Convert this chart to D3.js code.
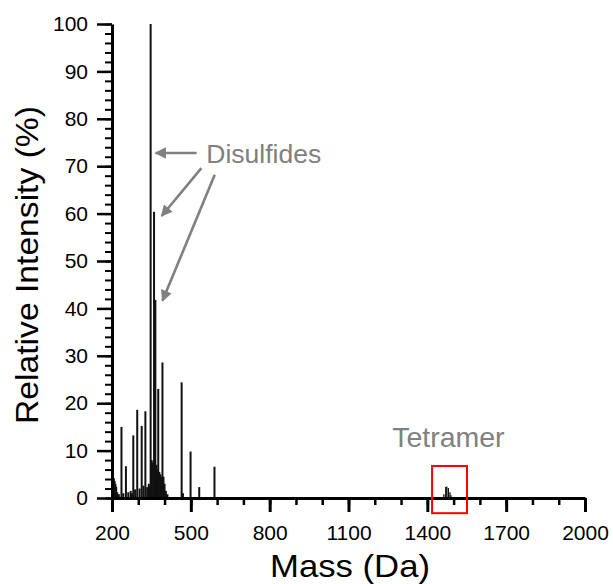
<!DOCTYPE html>
<html><head><meta charset="utf-8">
<script src="https://cdn.jsdelivr.net/npm/d3@7"></script>
<style>body{margin:0;background:#fff;} svg{display:block;}</style>
</head><body>
<svg id="chart" width="613" height="584"></svg>
<script>
// Spectrum sticks (mass in Da, relative intensity in %)
const masses = [201, 204, 207, 210, 213, 216, 220, 226, 236, 243, 253, 262, 271, 276, 281, 288, 296, 305, 313, 320, 327, 334, 340, 344, 347, 351, 355, 360, 365, 369, 373, 376, 380, 384, 388, 392, 396, 400, 405, 411, 465, 470, 499, 532, 590];
const intensities = [4.0, 3.8, 4.2, 3.6, 3.0, 2.4, 1.2, 0.8, 15.0, 1.0, 6.7, 1.2, 1.5, 1.0, 13.2, 1.8, 18.6, 2.0, 15.2, 2.6, 18.3, 2.3, 3.0, 2.5, 100, 8.0, 7.5, 60.4, 41.8, 7.0, 6.0, 23.0, 5.5, 5.0, 4.5, 28.6, 4.5, 3.0, 1.5, 0.8, 24.4, 1.0, 9.8, 2.3, 6.6];
const tetramerMasses = [1463, 1470, 1474, 1480, 1486, 1490];
const tetramerIntensities = [0.8, 2.3, 2.4, 2.1, 1.2, 0.6];

const xTicks = [200, 500, 800, 1100, 1400, 1700, 2000];
const xMinorTicks = d3.range(200, 2001, 100);
const yTicks = [0, 10, 20, 30, 40, 50, 60, 70, 80, 90, 100];
const yMinorTicks = d3.range(0, 101, 2);

const xTitle = "Mass (Da)";
const yTitle = "Relative Intensity (%)";

// Annotations in data coordinates
const disulfideLabel = {text: "Disulfides", mass: 559, value: 70.7};
const disulfideArrows = [
  {fromMass: 522, fromValue: 72.8, toMass: 366, toValue: 72.8},
  {fromMass: 540, fromValue: 69.6, toMass: 389, toValue: 59.5},
  {fromMass: 591, fromValue: 68.2, toMass: 392, toValue: 41.6}
];
const tetramerLabel = {text: "Tetramer", mass: 1480, value: 10.7};
const tetramerBox = {m0: 1418, m1: 1551, v0: -3.2, v1: 6.75};

const svg = d3.select("#chart");
const mL = 112, mR = 585, mT = 24, mB = 498;

const x = d3.scaleLinear().domain([200, 2000]).range([mL, mR]);
const y = d3.scaleLinear().domain([0, 100]).range([mB, mT]);

const font = "'Liberation Sans', Arial, sans-serif";

// sticks
const sticks = svg.append("g");
masses.forEach((m, i) => {
  sticks.append("line")
    .attr("x1", x(m)).attr("x2", x(m))
    .attr("y1", y(0)).attr("y2", y(intensities[i]))
    .attr("stroke", "#111").attr("stroke-width", 2);
});
tetramerMasses.forEach((m, i) => {
  sticks.append("line")
    .attr("x1", x(m)).attr("x2", x(m))
    .attr("y1", y(0)).attr("y2", y(tetramerIntensities[i]))
    .attr("stroke", "#111").attr("stroke-width", 1.3);
});

// x axis minor
svg.append("g").attr("transform", `translate(0,${mB})`)
  .call(d3.axisBottom(x).tickValues(xMinorTicks).tickSize(7).tickSizeOuter(0).tickFormat(""))
  .call(g => g.select(".domain").remove())
  .call(g => g.selectAll(".tick line").attr("stroke", "#000").attr("stroke-width", 2.5));
// x axis major
svg.append("g").attr("transform", `translate(0,${mB})`)
  .call(d3.axisBottom(x).tickValues(xTicks).tickSize(14).tickSizeOuter(0).tickPadding(13).tickFormat(d3.format("d")))
  .call(g => g.select(".domain").attr("stroke", "#000").attr("stroke-width", 3))
  .call(g => g.selectAll(".tick line").attr("stroke", "#000").attr("stroke-width", 3))
  .call(g => g.selectAll(".tick text").attr("fill", "#000").attr("font-size", 21).attr("font-family", font).attr("dy", "0.71em"));

// y axis minor
svg.append("g").attr("transform", `translate(${mL},0)`)
  .call(d3.axisLeft(y).tickValues(yMinorTicks).tickSize(7).tickSizeOuter(0).tickFormat(""))
  .call(g => g.select(".domain").remove())
  .call(g => g.selectAll(".tick line").attr("stroke", "#000").attr("stroke-width", 2));
// y axis major
svg.append("g").attr("transform", `translate(${mL},0)`)
  .call(d3.axisLeft(y).tickValues(yTicks).tickSize(15).tickSizeOuter(0).tickPadding(9).tickFormat(d3.format("d")))
  .call(g => g.select(".domain").attr("stroke", "#000").attr("stroke-width", 3))
  .call(g => g.selectAll(".tick line").attr("stroke", "#000").attr("stroke-width", 2.5))
  .call(g => g.selectAll(".tick text").attr("fill", "#000").attr("font-size", 21).attr("font-family", font));

// titles
svg.append("text").attr("x", 350).attr("y", 577)
  .attr("text-anchor", "middle").attr("font-family", font).attr("font-size", 32).attr("fill", "#000")
  .attr("textLength", 160).attr("lengthAdjust", "spacingAndGlyphs")
  .text(xTitle);
svg.append("text").attr("transform", `translate(38,265) rotate(-90)`)
  .attr("text-anchor", "middle").attr("font-family", font).attr("font-size", 32).attr("fill", "#000")
  .attr("textLength", 318).attr("lengthAdjust", "spacingAndGlyphs")
  .text(yTitle);

// annotations
const gray = "#808080";
const defs = svg.append("defs");
defs.append("marker").attr("id", "ah").attr("viewBox", "0 0 10 10")
  .attr("refX", 9).attr("refY", 5).attr("markerWidth", 5).attr("markerHeight", 4.4)
  .attr("markerUnits", "strokeWidth").attr("orient", "auto")
  .append("path").attr("d", "M0,0 L10,5 L0,10 Z").attr("fill", gray);

disulfideArrows.forEach(a => {
  svg.append("line")
    .attr("x1", x(a.fromMass)).attr("y1", y(a.fromValue))
    .attr("x2", x(a.toMass)).attr("y2", y(a.toValue))
    .attr("stroke", gray).attr("stroke-width", 2.6)
    .attr("marker-end", "url(#ah)");
});
svg.append("text").attr("x", x(disulfideLabel.mass)).attr("y", y(disulfideLabel.value))
  .attr("font-family", font).attr("font-size", 26.5).attr("fill", gray)
  .text(disulfideLabel.text);
svg.append("text").attr("x", x(tetramerLabel.mass)).attr("y", y(tetramerLabel.value))
  .attr("text-anchor", "middle").attr("font-family", font).attr("font-size", 28.5).attr("fill", gray)
  .text(tetramerLabel.text);
svg.append("rect")
  .attr("x", x(tetramerBox.m0)).attr("y", y(tetramerBox.v1))
  .attr("width", x(tetramerBox.m1) - x(tetramerBox.m0))
  .attr("height", y(tetramerBox.v0) - y(tetramerBox.v1))
  .attr("fill", "none").attr("stroke", "#ff0000").attr("stroke-width", 2);
</script>
</body></html>
